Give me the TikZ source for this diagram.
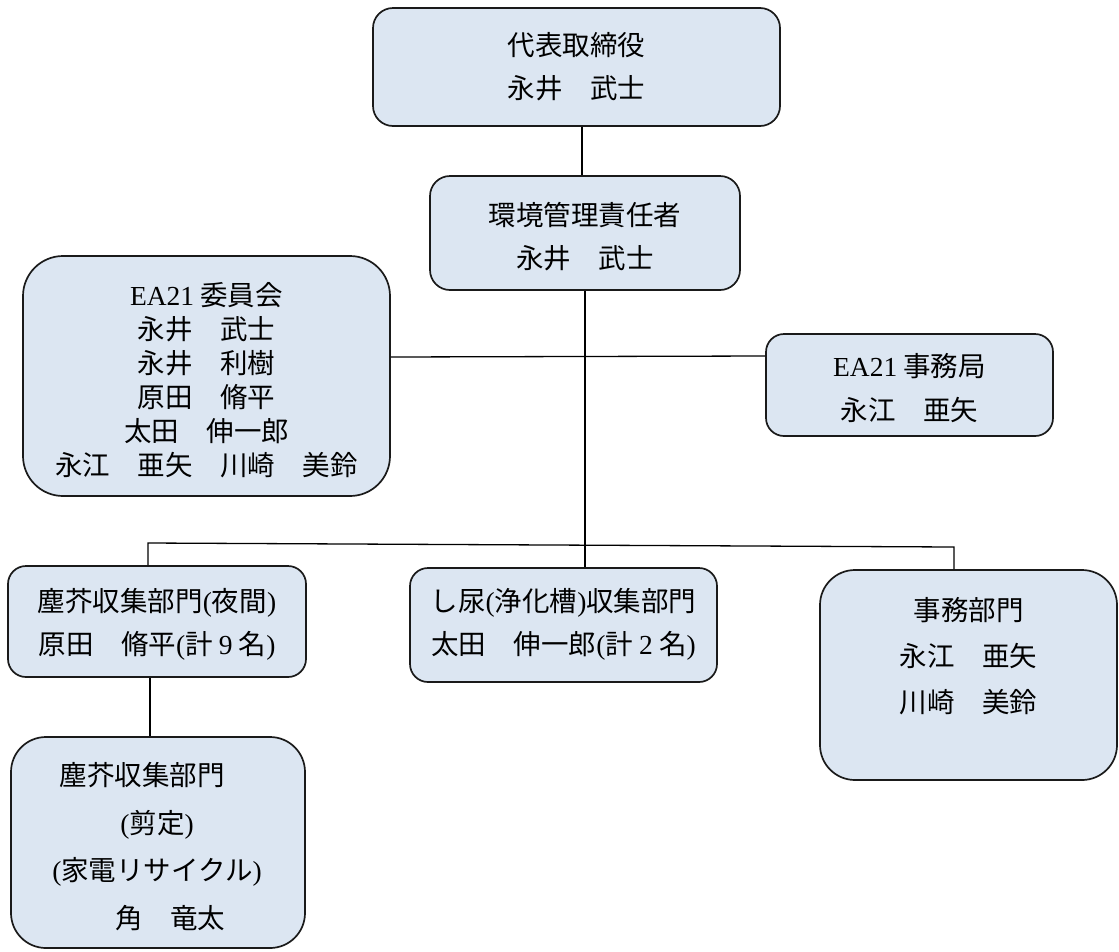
\documentclass[tikz,border=0pt]{standalone}
\usepackage{fontspec}
\newfontfamily\cjk{Noto Sans CJK JP}
\newfontfamily\lat{Liberation Serif}
\newcommand\myLP{{\lat(}}
\newcommand\myRP{{\lat)}}
\definecolor{boxfill}{HTML}{DCE6F2}
\definecolor{boxline}{HTML}{1A1A1A}
\tikzset{
  orgbox/.style={draw=boxline, fill=boxfill, line width=1.7pt, inner sep=0pt},
  txt/.style={align=center, inner sep=0pt, font=\fontsize{27.5}{43}\selectfont\cjk},
  link/.style={line width=1.3pt, draw=black}
}
\begin{document}
\begin{tikzpicture}[x=1pt,y=-1pt]
\useasboundingbox (0,0) rectangle (1119,951);
% boxes
\node[orgbox, rounded corners=20pt, minimum width=407pt, minimum height=118pt] (ceo) at (576.5,67) {};
\node[orgbox, rounded corners=20pt, minimum width=310pt, minimum height=114pt] (env) at (585,233) {};
\node[orgbox, rounded corners=40pt, minimum width=367pt, minimum height=240pt] (ea) at (206.5,376) {};
\node[orgbox, rounded corners=18pt, minimum width=287pt, minimum height=102pt] (jimu) at (909.5,385) {};
\node[orgbox, rounded corners=18pt, minimum width=298pt, minimum height=111pt] (night) at (157,621.5) {};
\node[orgbox, rounded corners=18pt, minimum width=307pt, minimum height=114pt] (sludge) at (563.5,625) {};
\node[orgbox, rounded corners=35pt, minimum width=297pt, minimum height=210pt] (office) at (968.5,675) {};
\node[orgbox, rounded corners=35pt, minimum width=294pt, minimum height=211pt] (prune) at (158,842.5) {};
% texts
\node[txt] (ceo-t) at (576.5,66.5) {代表取締役\\永井　武士};
\node[txt] (env-t) at (585,236.5) {環境管理責任者\\永井　武士};
\node[txt, font=\fontsize{27.5}{34}\selectfont\cjk] (ea-t) at (206.5,380) {{\lat EA21} 委員会\\永井　武士\\永井　利樹\\原田　脩平\\太田　伸一郎\\永江　亜矢　川崎　美鈴};
\node[txt, font=\fontsize{27.5}{44}\selectfont\cjk] (jimu-t) at (909.5,388) {{\lat EA21} 事務局\\永江　亜矢};
\node[txt] (night-t) at (157,624) {塵芥収集部門\myLP 夜間\myRP\\原田　脩平\myLP 計 {\lat 9} 名\myRP};
\node[txt] (sludge-t) at (563.5,624) {し尿\myLP 浄化槽\myRP 収集部門\\太田　伸一郎\myLP 計 {\lat 2} 名\myRP};
\node[txt, font=\fontsize{27.5}{46}\selectfont\cjk] (office-t) at (968.5,656) {事務部門\\永江　亜矢\\川崎　美鈴};
\node[txt, font=\fontsize{27.5}{47.5}\selectfont\cjk] (prune-t) at (157,846.5) {塵芥収集部門\hspace*{30pt}\\\myLP 剪定\myRP\hspace*{10pt}\\\myLP 家電リサイクル\myRP\\\hspace*{26pt}角　竜太};
% connectors
\draw[link] ([xshift=-3pt]env.north |- ceo.south) -- ([xshift=-3pt]env.north);
\draw[link] (env.south) -- (env.south |- sludge.north);
\draw[link] ([yshift=19pt]ea.east) -- ([yshift=29pt]jimu.west);
\coordinate (busL) at (148,543);
\coordinate (busR) at (954,547);
\draw[link] (busL |- night.north) -- (busL) -- (busR) -- (busR |- office.north);
\draw[link] ([xshift=-7pt]night.south) -- ([xshift=-7pt]night.south |- prune.north);
\end{tikzpicture}
\end{document}
